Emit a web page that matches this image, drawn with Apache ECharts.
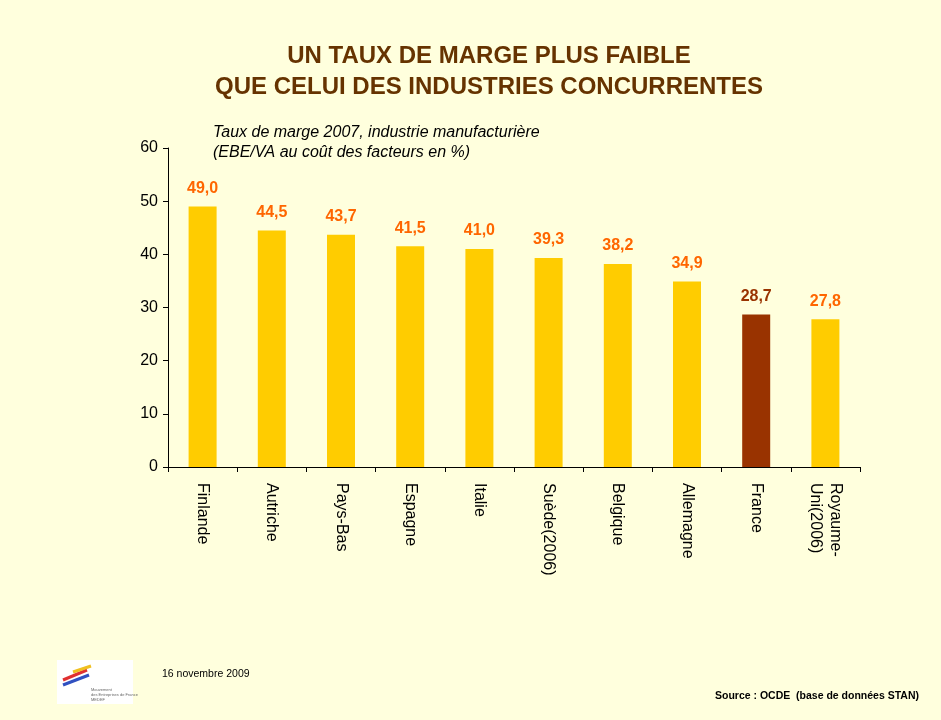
<!DOCTYPE html>
<html>
<head>
<meta charset="utf-8">
<script src="https://cdn.jsdelivr.net/npm/echarts@6/dist/echarts.min.js"></script>
<style>
  html, body { margin: 0; padding: 0; background: #FFFFDD; }
  #chart { width: 941px; height: 720px; }
</style>
</head>
<body>
<div id="chart"></div>
<script>
// pays et taux de marge 2007
var pays = ["Finlande", "Autriche", "Pays-Bas", "Espagne", "Italie", "Suède(2006)", "Belgique", "Allemagne", "France", "Royaume-\nUni(2006)"];
var taux = [49.0, 44.5, 43.7, 41.5, 41.0, 39.3, 38.2, 34.9, 28.7, 27.8];
var yTicks = [0, 10, 20, 30, 40, 50, 60];

var chart = echarts.init(document.getElementById("chart"));

var barData = taux.map(function (v, i) {
  var isFrance = pays[i] === "France";
  return {
    value: v,
    itemStyle: { color: isFrance ? "#993300" : "#FFCC00" },
    label: { color: isFrance ? "#993300" : "#FF6600" },
  };
});

chart.setOption({
  backgroundColor: "#FFFFDD",
  textStyle: { fontFamily: "Liberation Sans, Arial, sans-serif" },
  title: {
    text: "UN TAUX DE MARGE PLUS FAIBLE\nQUE CELUI DES INDUSTRIES CONCURRENTES",
    left: 484,
    top: 36,
    textAlign: "center",
    textStyle: {
      color: "#663300",
      fontSize: 24,
      fontWeight: "bold",
      lineHeight: 31,
    },
  },
  grid: { left: 168, right: 81, top: 148, bottom: 253 },
  xAxis: {
    type: "category",
    data: pays,
    axisLine: { lineStyle: { color: "#000", width: 1 } },
    axisTick: { show: true, length: 5, lineStyle: { color: "#000" } },
    axisLabel: {
      rotate: -90,
      margin: 16,
      color: "#000",
      fontSize: 16,
      lineHeight: 20,
      interval: 0,
    },
  },
  yAxis: {
    type: "value",
    min: yTicks[0],
    max: yTicks[yTicks.length - 1],
    interval: 10,
    splitLine: { show: false },
    axisLine: { show: true, lineStyle: { color: "#000", width: 1 } },
    axisTick: { show: true, length: 5, lineStyle: { color: "#000" } },
    axisLabel: { color: "#000", fontSize: 16, margin: 10 },
  },
  series: [
    {
      type: "bar",
      data: barData,
      barWidth: 28,
      label: {
        show: true,
        position: "top",
        distance: 10,
        fontSize: 16,
        fontWeight: "bold",
        formatter: function (p) {
          return p.value.toFixed(1).replace(".", ",");
        },
      },
    },
  ],
  graphic: [
    // sous-titre
    {
      type: "text",
      left: 213,
      top: 123,
      style: {
        text: "Taux de marge 2007, industrie manufacturière\n(EBE/VA au coût des facteurs en %)",
        font: "italic 16px Liberation Sans, Arial, sans-serif",
        fill: "#000",
        lineHeight: 20,
      },
    },
    // logo
    {
      type: "group",
      left: 57,
      top: 660,
      children: [
        { type: "rect", shape: { x: 0, y: 0, width: 76, height: 44 }, style: { fill: "#fff" } },
        { type: "line", shape: { x1: 6, y1: 20, x2: 30, y2: 10 }, style: { stroke: "#e03030", lineWidth: 3 } },
        { type: "line", shape: { x1: 6, y1: 25, x2: 32, y2: 15 }, style: { stroke: "#3050c0", lineWidth: 3 } },
        { type: "line", shape: { x1: 16, y1: 12, x2: 34, y2: 6 }, style: { stroke: "#f0c020", lineWidth: 3 } },
        { type: "text", x: 34, y: 27, style: { text: "Mouvement\ndes Entreprises de France\nMEDEF", font: "4px sans-serif", fill: "#666", lineHeight: 5 } },
      ],
    },
    {
      type: "text",
      left: 162,
      top: 669,
      style: { text: "16 novembre 2009", font: "10.5px Liberation Sans, Arial, sans-serif", fill: "#000" },
    },
    {
      type: "text",
      right: 22,
      top: 691,
      style: { text: "Source : OCDE  (base de données STAN)", font: "bold 10.5px Liberation Sans, Arial, sans-serif", fill: "#000" },
    },
  ],
});
</script>
</body>
</html>
